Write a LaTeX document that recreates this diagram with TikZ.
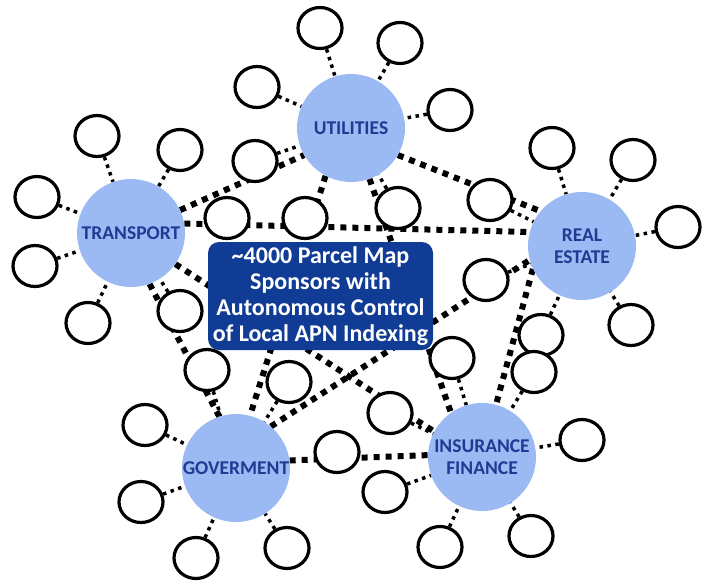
\documentclass[tikz,border=0pt]{standalone}
\usepackage{fontspec}
\setmainfont{Carlito}
\usetikzlibrary{shapes.geometric}
\pgfdeclarelayer{bg}
\pgfsetlayers{bg,main}
\definecolor{hubfill}{RGB}{155,185,243}
\definecolor{hubtext}{RGB}{31,60,148}
\definecolor{boxfill}{RGB}{16,60,150}
\begin{document}
\begin{tikzpicture}[x=1pt,y=-1pt,
  hub/.style={circle,fill=hubfill,minimum size=108pt,inner sep=0pt,text=hubtext,
    font=\bfseries\fontsize{19.5}{22}\selectfont,align=center},
  small/.style={ellipse,draw=black,line width=3.2pt,fill=white,minimum width=44pt,
    minimum height=41pt,inner sep=0pt},
  centerbox/.style={rectangle,rounded corners=11pt,fill=boxfill,text=white,
    minimum width=225pt,minimum height=108pt,inner sep=0pt,align=center,
    font=\bfseries\fontsize{24}{26}\selectfont},
  thickdots/.style={line width=6pt,dash pattern=on 6pt off 6pt},
  spoke/.style={line width=3.5pt,dash pattern=on 3.5pt off 4.5pt}
]
\useasboundingbox (0,0) rectangle (702,582);

% hubs
\node[hub] (U) at (351,128) {UTILITIES};
\node[hub] (T) at (131,233) {TRANSPORT};
\node[hub] (R) at (582,246) {REAL\\ESTATE};
\node[hub] (G) at (236,468) {GOVERMENT};
\node[hub] (I) at (482,457) {INSURANCE\\FINANCE};

% small circles
\node[small] (s1) at (320,28) {};
\node[small] (s2) at (257,87) {};
\node[small] (s3) at (400,43) {};
\node[small] (s4) at (450,110) {};
\node[small] (s5) at (255,161) {};
\node[small] (s6) at (97,136) {};
\node[small] (s7) at (180,150) {};
\node[small] (s8) at (37,197) {};
\node[small] (s9) at (35,266) {};
\node[small] (s10) at (88,323) {};
\node[small] (s11) at (180,311) {};
\node[small] (s12) at (227,218) {};
\node[small] (s13) at (305,218) {};
\node[small] (s14) at (398,208) {};
\node[small] (s15) at (552,148) {};
\node[small] (s16) at (633,160) {};
\node[small] (s17) at (678,227) {};
\node[small] (s18) at (490,200) {};
\node[small] (s19) at (486,280) {};
\node[small] (s20) at (631,325) {};
\node[small] (s21) at (541,335) {};
\node[small] (s22) at (534,372) {};
\node[small] (s23) at (452,358) {};
\node[small] (s24) at (390,413) {};
\node[small] (s25) at (582,440) {};
\node[small] (s26) at (385,492) {};
\node[small] (s27) at (440,547) {};
\node[small] (s28) at (531,536) {};
\node[small] (s29) at (337,452) {};
\node[small] (s30) at (145,425) {};
\node[small] (s31) at (141,502) {};
\node[small] (s32) at (196,558) {};
\node[small] (s33) at (287,548) {};
\node[small] (s34) at (207,370) {};
\node[small] (s35) at (289,382) {};

% centre box
\node[centerbox] (C) at (320.5,296) {\textasciitilde4000 Parcel Map\\Sponsors with\\Autonomous Control\\of Local APN Indexing};

\begin{pgfonlayer}{bg}
  % hub-to-hub links
  \draw[thickdots] (T.25) -- (U.210);
  \draw[thickdots] (T.10) -- (R.165);
  \draw[thickdots] (U.-30) -- (R.140);
  \draw[thickdots] (U.-118) -- (G.75);
  \draw[thickdots] (U.-70) -- (I.125);
  \draw[thickdots] (T.-35) -- (I.152);
  \draw[thickdots] (T.-70) -- (G.108);
  \draw[thickdots] (G.8) -- (I.178);
  \draw[thickdots] (G.50) -- (R.-165);
  \draw[thickdots] (R.-155) -- (I.75);
  % spokes
  \foreach \s in {s1,s2,s3,s4,s5,s14} \draw[spoke] (\s) -- (U);
  \foreach \s in {s6,s7,s8,s9,s10,s11} \draw[spoke] (\s) -- (T);
  \foreach \s in {s15,s16,s17,s18,s19,s20,s21} \draw[spoke] (\s) -- (R);
  \foreach \s in {s22,s23,s24,s25,s26,s27,s28} \draw[spoke] (\s) -- (I);
  \foreach \s in {s30,s31,s32,s33,s34,s35} \draw[spoke] (\s) -- (G);
\end{pgfonlayer}
\end{tikzpicture}
\end{document}
